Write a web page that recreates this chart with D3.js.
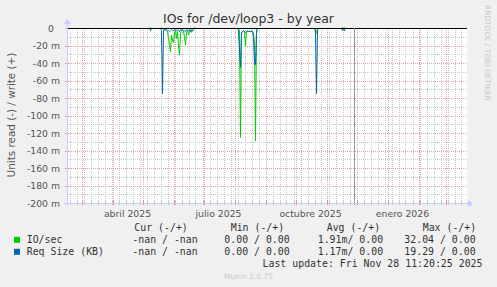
<!DOCTYPE html>
<html><head><meta charset="utf-8">
<script src="https://cdn.jsdelivr.net/npm/d3@7"></script>
<style>
html,body{margin:0;padding:0;background:#f0f0f0;}
svg{display:block;}
</style></head>
<body>
<svg id="c" width="497" height="287"></svg>
<script>
// ---- data (read side, drawn negative; values in milli-units) ----
const dates = [
 "2025-05-08","2025-05-09","2025-05-10",null,
 "2025-05-19","2025-05-20","2025-05-21","2025-05-22","2025-05-23","2025-05-24","2025-05-25","2025-05-26","2025-05-27","2025-05-28","2025-05-29","2025-05-30","2025-05-31",
 "2025-06-01","2025-06-02","2025-06-03","2025-06-04","2025-06-05","2025-06-06","2025-06-07","2025-06-08","2025-06-09","2025-06-10","2025-06-11","2025-06-12","2025-06-13","2025-06-14","2025-06-15","2025-06-16","2025-06-17","2025-06-18","2025-06-19","2025-06-20","2025-06-21","2025-06-22","2025-06-23",null,
 "2025-08-04","2025-08-05","2025-08-06","2025-08-07","2025-08-08","2025-08-09","2025-08-10","2025-08-11","2025-08-12","2025-08-13","2025-08-14","2025-08-15","2025-08-16","2025-08-17","2025-08-18","2025-08-19","2025-08-20","2025-08-21","2025-08-22","2025-08-23","2025-08-24",null,
 "2025-10-20","2025-10-21","2025-10-22","2025-10-23","2025-10-24",null,
 "2025-11-16","2025-11-17","2025-11-18","2025-11-19","2025-11-20"
];
const ioRead = [
 0,0,0,null,
 0,0,-1,-2,-2,-2,-3,-4,-12,-20,-27,-8,-14,
 -17,-5,-3,-12,-4,-20,-31,-6,-3,-2,-4,-10,-19,-6,-3,-8,-3,-2,-5,-2,-1,0,0,null,
 0,-1,-3,-125,-5,-4,-3,-5,-21,-4,-3,-4,-3,-4,-3,-4,-6,-20,-129,-3,0,null,
 0,-2,-6,-1,0,null,
 0,0,0,0,0
];
const reqSize = [
 0,-3,0,null,
 0,-3,-75,-3,-2,-2,-2,-3,-3,-4,-3,-2,-3,
 -3,-2,-2,-3,-2,-3,-4,-2,-2,-2,-3,-3,-4,-2,-2,-3,-2,-4,-2,-3,-2,-1,0,null,
 0,-3,-25,-45,-6,-4,-3,-4,-5,-4,-4,-4,-4,-4,-4,-4,-10,-40,-42,-5,0,null,
 0,-5,-75,-3,0,null,
 0,-3,-1,-3,0
];
const yTicks = [0,-20,-40,-60,-80,-100,-120,-140,-160,-180,-200];
const xLabels = [["abril 2025","2025-04-16"],["julio 2025","2025-07-16"],["octubre 2025","2025-10-16"],["enero 2026","2026-01-16"]];
const nowDate = "2025-11-28T11:20:25Z";
const seriesNames = ["IO/sec","Req Size (KB)"];
const seriesColors = ["#00cc00","#0066b3"];
const legendCur = ["-nan / -nan","-nan / -nan"];
const legendMin = ["0.00 / 0.00","0.00 / 0.00"];
const legendAvg = ["1.91m/ 0.00","1.17m/ 0.00"];
const legendMax = ["32.04 / 0.00","19.29 / 0.00"];

// ---- drawing ----
const svg = d3.select("#c");
const L=67, R=467, T=28, B=203;
const pd = s => new Date(s + (s.length===10 ? "T00:00:00Z" : ""));
const x = d3.scaleUtc().domain([new Date(Date.UTC(2025,1,14,12)), new Date(Date.UTC(2026,2,21,12))]).range([L,R]);
const y = d3.scaleLinear().domain([0,-200]).range([T,B]);

svg.append("rect").attr("x",L).attr("y",T).attr("width",R-L).attr("height",B-T).attr("fill","#fff");

const dom = x.domain();
const weeks = d3.utcMonday.range(dom[0], dom[1]);
const months = d3.utcMonth.range(dom[0], dom[1]);
const g = svg.append("g").attr("shape-rendering","crispEdges");
// minor horizontal
d3.range(0,-201,-10).filter(v=>v%20!==0).forEach(v=>{
  g.append("line").attr("x1",L).attr("x2",R).attr("y1",Math.round(y(v))+0.5).attr("y2",Math.round(y(v))+0.5)
   .attr("stroke","#c8c8c8").attr("stroke-dasharray","1,1");
});
weeks.forEach(d=>{
  const xx=Math.round(x(d))+0.5;
  g.append("line").attr("x1",xx).attr("x2",xx).attr("y1",T).attr("y2",B).attr("stroke","#c8c8c8").attr("stroke-dasharray","1,1");
  g.append("line").attr("x1",xx).attr("x2",xx).attr("y1",B-2).attr("y2",B+2).attr("stroke","#c8c8c8");
});
yTicks.forEach(v=>{
  const yy=Math.round(y(v))+0.5;
  g.append("line").attr("x1",L).attr("x2",R).attr("y1",yy).attr("y2",yy).attr("stroke","#e6a0a0").attr("stroke-dasharray","1,1");
  g.append("line").attr("x1",L-2).attr("x2",L+2).attr("y1",yy).attr("y2",yy).attr("stroke","#e6a0a0");
});
months.forEach(d=>{
  const xx=Math.round(x(d))+0.5;
  g.append("line").attr("x1",xx).attr("x2",xx).attr("y1",T).attr("y2",B).attr("stroke","#e6a0a0").attr("stroke-dasharray","1,1");
  g.append("line").attr("x1",xx).attr("x2",xx).attr("y1",B-2).attr("y2",B+2).attr("stroke","#e08080");
});

// data lines
const pts = dates.map((d,i)=>({d: d?pd(d):null, io: ioRead[i], rs: reqSize[i]}));
const mk = key => d3.line().defined(p=>p.d && p[key]!==null).x(p=>x(p.d)).y(p=>y(p[key]));
svg.append("path").attr("d",mk("io")(pts)).attr("fill","none").attr("stroke",seriesColors[0]).attr("stroke-width",1);
svg.append("path").attr("d",mk("rs")(pts)).attr("fill","none").attr("stroke",seriesColors[1]).attr("stroke-width",1);

// zero line
svg.append("line").attr("x1",L).attr("x2",R).attr("y1",T+0.5).attr("y2",T+0.5).attr("stroke","#000").attr("shape-rendering","crispEdges");
// now line
const nx = Math.round(x(new Date(nowDate)))+0.5;
svg.append("line").attr("x1",nx).attr("x2",nx).attr("y1",T).attr("y2",B+2).attr("stroke","#999").attr("shape-rendering","crispEdges");

// axes
const ac="#c4caff";
svg.append("line").attr("x1",L+0.5).attr("x2",L+0.5).attr("y1",B+3).attr("y2",T-6).attr("stroke",ac).attr("shape-rendering","crispEdges");
svg.append("path").attr("d",`M${L-3},${T-4} L${L+0.5},${T-9} L${L+4},${T-4} Z`).attr("fill",ac);
svg.append("line").attr("x1",L-3).attr("x2",R+2).attr("y1",B+0.5).attr("y2",B+0.5).attr("stroke",ac).attr("shape-rendering","crispEdges");
svg.append("path").attr("d",`M${R+1},${B-3} L${R+6},${B+0.5} L${R+1},${B+4} Z`).attr("fill",ac);

// y labels
const tf = "DejaVu Sans, sans-serif";
yTicks.forEach(v=>{
  svg.append("text").attr("x", v===0?54:60).attr("y",y(v)+3.5).attr("text-anchor","end")
    .attr("font-family",tf).attr("font-size","9.3px").attr("fill","#555")
    .text(v===0?"0":v+" m");
});
xLabels.forEach(([t,d])=>{
  svg.append("text").attr("x",x(pd(d))).attr("y",216.5).attr("text-anchor","middle")
    .attr("font-family",tf).attr("font-size","9.3px").attr("fill","#555").text(t);
});
// title
svg.append("text").attr("x",248.5).attr("y",22.5).attr("text-anchor","middle").attr("font-family",tf)
  .attr("font-size","12.5px").attr("fill","#333").text("IOs for /dev/loop3 - by year");
// y axis title
svg.append("text").attr("transform","translate(14.5,115) rotate(-90)").attr("text-anchor","middle")
  .attr("font-family",tf).attr("font-size","10.4px").attr("fill","#555").text("Units read (-) / write (+)");
// rrdtool watermark
svg.append("text").attr("transform","translate(484.5,5) rotate(90)").attr("text-anchor","start")
  .attr("font-family",tf).attr("font-size","7.45px").attr("fill","#c8c8c8").text("RRDTOOL / TOBI OETIKER");

// legend
const mf = "DejaVu Sans Mono, monospace";
const lfs = "9.9px", lc="#333";
const hdr = [["Cur (-/+)",134.3],["Min (-/+)",230.7],["Avg (-/+)",326.7],["Max (-/+)",422.7]];
hdr.forEach(([t,xx])=>svg.append("text").attr("x",xx).attr("y",230.8).attr("font-family",mf).attr("font-size",lfs).attr("fill",lc).text(t).attr("xml:space","preserve"));
const rowsY=[243.3,255.3];
seriesNames.forEach((n,i)=>{
  const yy=rowsY[i];
  svg.append("rect").attr("x",14).attr("y",yy-6.5).attr("width",6).attr("height",6).attr("fill",seriesColors[i]);
  const cols=[[n,26.7],[legendCur[i],132.3],[legendMin[i],224.3],[legendAvg[i],317.7],[legendMax[i],404.3]];
  cols.forEach(([t,xx])=>svg.append("text").attr("x",xx).attr("y",yy).attr("font-family",mf).attr("font-size",lfs).attr("fill",lc).attr("xml:space","preserve").text(t));
});
svg.append("text").attr("x",482.5).attr("y",266.8).attr("text-anchor","end").attr("font-family",mf).attr("font-size",lfs).attr("fill",lc)
  .text("Last update: Fri Nov 28 11:20:25 2025");
svg.append("text").attr("x",248.5).attr("y",279).attr("text-anchor","middle").attr("font-family",tf).attr("font-size","7.5px").attr("fill","#c8c8c8").text("Munin 2.0.75");
</script>
</body></html>
